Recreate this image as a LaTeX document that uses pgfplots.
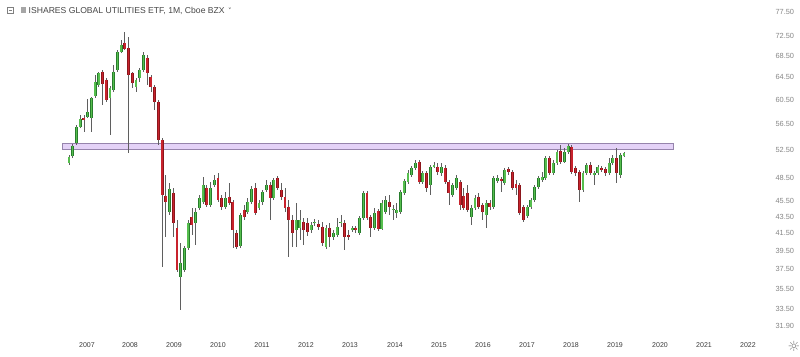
\documentclass[border=0pt]{standalone}
\usepackage{pgfplots}
\pgfplotsset{compat=1.18}
\usepackage{pgfplotstable}
\usepackage{fontspec}
\setmainfont{Liberation Sans}
\newfontfamily\symfont{DejaVu Sans}
\definecolor{upfill}{RGB}{86,190,78}
\definecolor{upedge}{RGB}{40,125,45}
\definecolor{dnfill}{RGB}{200,35,45}
\definecolor{dnedge}{RGB}{140,22,28}
\definecolor{wickc}{RGB}{95,95,95}
\definecolor{bandfill}{RGB}{228,210,247}
\definecolor{banddraw}{RGB}{150,132,172}
\definecolor{ylab}{RGB}{135,135,135}
\definecolor{xlab}{RGB}{60,60,60}
\definecolor{titlec}{RGB}{70,70,70}

\pgfplotstableread{
i o h l c
0 50.61 51.76 50.32 51.46
1 51.61 53.40 51.32 53.10
2 53.56 56.34 53.25 56.02
3 56.02 57.96 55.86 57.30
4 57.47 57.96 55.24 57.14
5 57.63 60.64 57.47 58.45
6 57.47 60.98 55.24 60.81
7 61.16 64.90 60.81 63.62
8 63.09 65.45 62.73 65.27
9 65.45 65.82 59.62 63.26
10 63.98 64.34 60.13 60.47
11 60.81 62.91 54.77 62.55
12 62.20 66.76 61.85 65.45
13 65.82 69.64 65.45 69.25
14 69.25 71.62 69.05 70.63
15 71.02 73.27 69.64 69.84
16 70.03 72.23 52.06 64.90
17 65.27 65.45 62.55 63.44
18 62.73 64.34 61.85 63.98
19 64.34 66.20 63.62 65.82
20 65.82 69.25 65.45 68.67
21 68.09 68.67 63.09 65.27
22 64.53 64.90 61.85 62.73
23 62.73 63.09 58.78 60.13
24 60.13 60.47 53.25 54.01
25 54.01 54.32 37.74 46.24
26 46.11 48.92 41.06 45.33
27 44.07 47.83 43.70 47.03
28 46.50 47.17 41.06 42.73
29 42.13 43.09 37.21 37.42
30 36.69 40.38 33.42 38.16
31 37.42 40.04 37.21 39.81
32 39.81 43.09 39.59 42.73
33 43.45 44.57 41.30 42.49
34 42.73 44.57 40.15 44.07
35 44.57 46.24 44.32 45.85
36 45.33 48.65 45.07 47.57
37 47.17 47.57 44.70 44.95
38 44.95 47.97 44.70 47.17
39 47.57 48.92 47.30 48.24
40 48.51 49.20 45.33 45.59
41 45.85 46.24 44.32 44.70
42 44.70 46.63 44.44 45.85
43 45.98 47.83 44.95 45.20
44 45.33 45.59 39.81 41.89
45 41.53 41.89 39.70 39.93
46 40.04 43.95 39.81 43.70
47 44.32 44.95 43.09 43.45
48 44.07 45.85 43.82 45.33
49 45.33 47.43 45.07 47.03
50 47.17 47.83 43.70 43.95
51 44.57 45.59 44.32 45.20
52 45.33 46.90 44.95 46.63
53 46.90 48.24 46.63 47.57
54 47.57 47.97 43.09 45.85
55 45.85 48.51 45.59 48.24
56 48.51 48.78 46.90 47.17
57 46.90 47.83 45.59 45.98
58 45.98 47.17 44.07 44.57
59 44.70 45.59 38.82 43.09
60 43.09 43.70 39.93 41.53
61 41.89 45.20 39.93 43.09
62 42.13 44.32 40.72 43.09
63 42.85 43.33 40.15 41.89
64 42.73 43.33 41.18 41.65
65 41.89 42.85 41.53 42.49
66 42.67 43.21 42.37 42.79
67 42.61 43.09 41.89 42.25
68 42.25 42.85 40.04 40.38
69 39.93 42.49 39.70 42.13
70 42.13 42.73 39.93 41.06
71 41.06 41.89 40.72 41.53
72 41.30 43.33 41.06 42.25
73 42.73 43.70 42.25 42.85
74 42.73 43.09 39.59 41.06
75 41.30 41.89 40.72 41.06
76 41.89 42.37 41.65 42.13
77 42.13 42.37 41.53 41.89
78 41.53 43.57 41.30 43.33
79 43.33 46.77 43.09 46.50
80 46.50 46.77 43.09 43.33
81 43.45 43.70 41.06 42.13
82 42.13 44.57 41.89 43.95
83 44.19 44.44 41.77 42.01
84 42.01 45.59 41.89 45.20
85 44.07 46.11 43.82 45.59
86 45.33 46.24 43.70 44.70
87 44.32 44.95 43.09 44.44
88 43.95 45.20 43.33 44.32
89 44.07 46.90 43.82 46.63
90 46.50 48.37 46.24 48.10
91 47.97 49.62 47.70 49.20
92 48.92 50.18 48.65 49.90
93 49.90 51.04 49.62 50.61
94 50.75 51.04 47.70 47.97
95 47.97 49.48 47.70 49.20
96 49.20 49.48 46.63 47.17
97 47.57 50.32 46.24 50.04
98 50.04 50.75 49.90 50.32
99 50.04 50.61 48.92 49.34
100 49.20 50.61 48.78 50.04
101 49.90 50.32 47.70 47.97
102 47.97 48.24 44.95 46.50
103 46.24 47.83 45.98 47.57
104 47.17 48.92 46.90 48.51
105 47.97 48.24 44.32 44.95
106 46.11 47.17 44.32 44.57
107 46.50 47.57 44.07 44.32
108 43.45 44.95 42.49 44.57
109 44.57 46.24 44.32 45.85
110 45.98 46.50 44.44 44.70
111 44.95 45.20 43.09 44.07
112 43.70 45.59 42.13 45.20
113 45.20 45.59 44.32 44.70
114 44.70 48.78 44.44 48.51
115 48.10 48.92 47.83 48.51
116 48.37 48.65 46.63 48.10
117 47.83 49.90 47.57 49.62
118 49.76 50.04 48.92 49.34
119 49.34 49.62 46.90 47.17
120 47.70 48.24 46.24 47.17
121 47.57 47.83 43.70 43.95
122 44.70 44.95 42.85 43.09
123 43.57 44.95 43.33 44.70
124 44.70 45.85 44.44 45.59
125 45.59 47.57 45.33 47.30
126 47.30 48.78 47.03 48.51
127 48.24 49.34 47.97 48.65
128 48.51 51.61 48.24 51.32
129 51.32 51.61 48.92 49.20
130 49.20 51.04 48.92 50.61
131 50.61 52.50 50.32 52.20
132 52.35 53.25 50.47 50.75
133 50.75 52.80 50.61 52.20
134 52.20 53.40 51.91 53.10
135 52.95 53.25 49.06 49.34
136 49.90 50.18 48.78 49.20
137 49.34 49.62 45.33 46.90
138 46.90 49.48 46.63 49.20
139 49.20 50.61 48.92 50.32
140 50.32 50.75 48.92 49.20
141 48.92 49.48 47.57 49.20
142 49.20 50.32 48.92 50.04
143 49.90 50.18 49.34 49.62
144 49.76 50.04 48.78 49.20
145 49.20 51.32 48.92 50.61
146 50.61 51.76 50.32 51.32
147 51.32 52.80 47.83 49.20
148 48.92 52.06 48.51 51.76
149 51.61 52.20 51.46 52.06
}\candles

\def\allW{}\def\upB{}\def\dnB{}
\pgfplotstablegetrowsof{\candles}
\pgfmathtruncatemacro\lastrow{\pgfplotsretval-1}
\pgfplotsforeachungrouped \rr in {0,...,\lastrow}{%
  \pgfplotstablegetelem{\rr}{i}\of\candles \edef\ci{\pgfplotsretval}%
  \pgfplotstablegetelem{\rr}{o}\of\candles \edef\co{\pgfplotsretval}%
  \pgfplotstablegetelem{\rr}{h}\of\candles \edef\ch{\pgfplotsretval}%
  \pgfplotstablegetelem{\rr}{l}\of\candles \edef\cl{\pgfplotsretval}%
  \pgfplotstablegetelem{\rr}{c}\of\candles \edef\cc{\pgfplotsretval}%
  \xdef\allW{\allW (\ci,\cl) (\ci,\ch) (\ci,nan)}%
  \ifdim\cc pt<\co pt
    \xdef\dnB{\dnB (\ci,\co) (\ci,\cc) (\ci,nan)}%
  \else
    \xdef\upB{\upB (\ci,\co) (\ci,\cc) (\ci,nan)}%
  \fi
}

\begin{document}
\begin{tikzpicture}[x=1pt,y=1pt]
\path[use as bounding box, fill=white] (0,-18) rectangle (800,338);
\begin{axis}[
  at={(0,0)}, anchor=south west,
  scale only axis, width=770pt, height=338pt,
  xmin=-18.52, xmax=188.19,
  ymode=log, ymin=30.87, ymax=80.2,
  axis line style={draw=none},
  major tick length=0pt, minor tick length=0pt,
  tick style={draw=none},
  unbounded coords=jump,
  ytick={31.9,33.5,35.5,37.5,39.5,41.5,43.5,45.5,48.5,52.5,56.5,60.5,64.5,68.5,72.5,77.5},
  yticklabels={31.90,33.50,35.50,37.50,39.50,41.50,43.50,45.50,48.50,52.50,56.50,60.50,64.50,68.50,72.50,77.50},
  yticklabel pos=right,
  yticklabel style={anchor=west, xshift=2pt, font=\fontsize{7.4}{8}\selectfont, text=ylab},
  xtick={4.83,16.38,28.19,40.0,51.81,63.62,75.44,87.52,99.33,111.14,122.95,134.77,146.58,158.66,170.47,182.28},
  xticklabels={2007,2008,2009,2010,2011,2012,2013,2014,2015,2016,2017,2018,2019,2020,2021,2022},
  xticklabel style={font=\fontsize{7}{8}\selectfont, text=xlab, yshift=-1pt},
]
\addplot[fill=bandfill, draw=banddraw, line width=0.9pt] coordinates {(-1.88,52.6) (162.4,52.6) (162.4,53.5) (-1.88,53.5)} -- cycle;
\edef\tmp{\noexpand\addplot[draw=wickc, line width=0.75pt] coordinates {\allW};}\tmp
\edef\tmp{\noexpand\addplot[draw=upedge, line width=2.9pt] coordinates {\upB};}\tmp
\edef\tmp{\noexpand\addplot[draw=upfill, line width=1.5pt] coordinates {\upB};}\tmp
\edef\tmp{\noexpand\addplot[draw=dnedge, line width=2.9pt] coordinates {\dnB};}\tmp
\edef\tmp{\noexpand\addplot[draw=dnfill, line width=1.5pt] coordinates {\dnB};}\tmp
\end{axis}
% header icons and title
\draw[gray, line width=0.6pt] (7.5,330.5) rectangle (13,325);
\draw[gray, line width=0.6pt] (8.8,327.75) -- (11.7,327.75);
\fill[gray!70] (20.5,330.5) rectangle (26,325);
\node[anchor=west, inner sep=0pt, text=titlec, font=\fontsize{8.6}{10}\selectfont] at (28.5,327.5) {ISHARES GLOBAL UTILITIES ETF, 1M, Cboe BZX};
\node[anchor=west, inner sep=0pt, text=titlec, font=\symfont\fontsize{7}{8}\selectfont] at (228,327) {˅};
\node[text=gray, font=\symfont\fontsize{14}{15}\selectfont, inner sep=0pt] at (794,-8.5) {☼};
\end{tikzpicture}
\end{document}
